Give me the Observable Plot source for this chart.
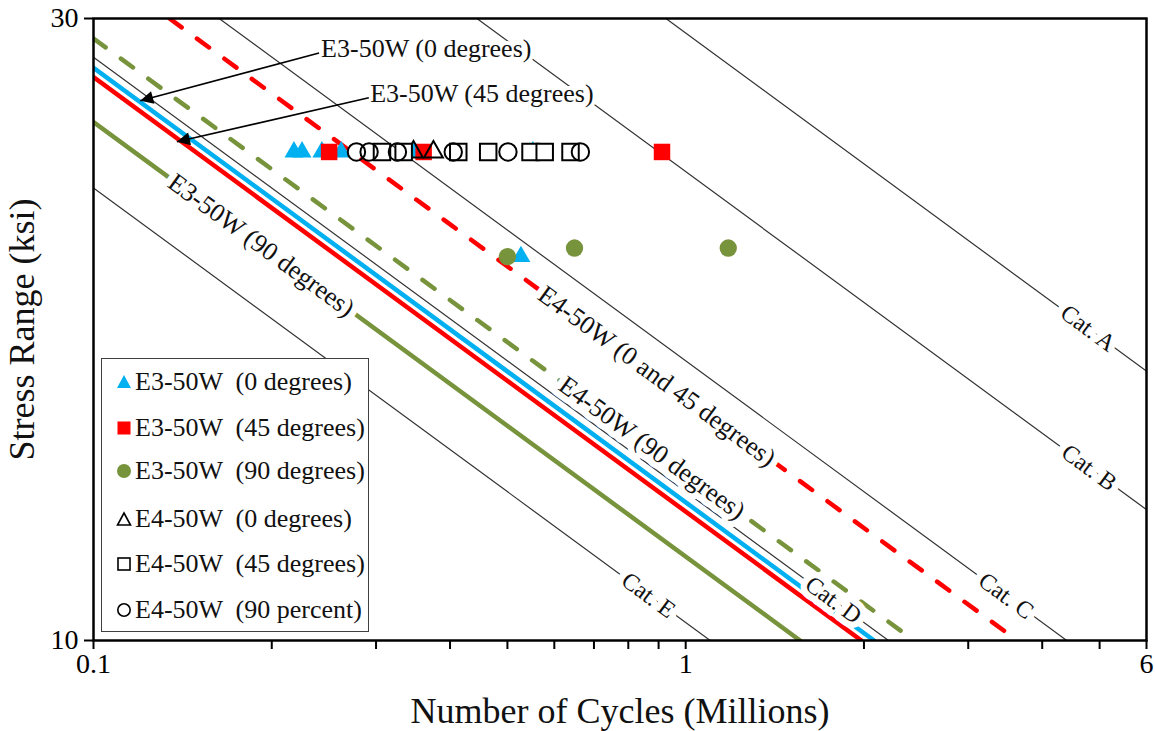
<!DOCTYPE html>
<html>
<head>
<meta charset="utf-8">
<script src="https://cdn.jsdelivr.net/npm/d3@7"></script>
<script src="https://cdn.jsdelivr.net/npm/@observablehq/plot@0.6"></script>
<style>
  body { margin: 0; background: white; }
  #wrap { position: relative; width: 1155px; height: 731px; font-family: "Liberation Serif", "Times New Roman", Times, "DejaVu Serif", serif; }
  #wrap svg text { font-family: "Liberation Serif", "Times New Roman", Times, "DejaVu Serif", serif; }
  #legend { position: absolute; left: 101px; top: 358px; width: 268px; height: 274px; border: 1.5px solid #404040; background: white; box-sizing: border-box; }
  .row { position: absolute; left: 14px; height: 30px; display: flex; align-items: center; font-size: 26px; white-space: pre; color: #111; }
  .row svg { margin-right: 3px; }
</style>
</head>
<body>
<div id="wrap"></div>
<script>
// ---------- data ----------
// stress-life lines: endpoints [cycles in millions, stress range ksi]
const catA = [[0.926, 30], [6, 16.09]];
const catB = [[0.444, 30], [6, 12.6]];
const catC = [[0.163, 30], [4.4, 10]];
const catD = [[0.1, 28.02], [2.2, 10]];
const catE = [[0.1, 22.24], [1.1, 10]];
const e3_0_fit = [[0.1, 27.5], [2.08, 10]];
const e3_45_fit = [[0.1, 27.05], [1.98, 10]];
const e3_90_fit = [[0.1, 24.98], [1.56, 10]];
const e4_045_fit = [[0.1344, 30], [3.63, 10]];
const e4_90_fit = [[0.1, 28.96], [2.43, 10]];

// test results
const e3_0_N = [0.218, 0.225, 0.243, 0.262, 0.347, 0.552, 0.527];
const e3_0_S = [23.7, 23.7, 23.7, 23.7, 23.7, 23.7, 19.7];
const e3_45_N = [0.250, 0.361, 0.912];
const e3_45_S = [23.7, 23.7, 23.7];
const e3_90_N = [0.50, 0.649, 1.18];
const e3_90_S = [19.7, 20, 20];
const e4_0_N = [0.347, 0.375];
const e4_0_S = [23.7, 23.7];
const e4_45_N = [0.307, 0.334, 0.413, 0.464, 0.547, 0.578, 0.639];
const e4_45_S = [23.7, 23.7, 23.7, 23.7, 23.7, 23.7, 23.7];
const e4_90_N = [0.278, 0.292, 0.326, 0.405, 0.501, 0.664];
const e4_90_S = [23.7, 23.7, 23.7, 23.7, 23.7, 23.7];

const legendNames = ["E3-50W  (0 degrees)", "E3-50W  (45 degrees)", "E3-50W  (90 degrees)",
                     "E4-50W  (0 degrees)", "E4-50W  (45 degrees)", "E4-50W  (90 percent)"];

// labels placed along lines [text, N, S]
const lineLabels = [
  ["E3-50W (90 degrees)", 0.192, 20.1],
  ["E4-50W (0 and 45 degrees)", 0.894, 15.95],
  ["E4-50W (90 degrees)", 0.877, 14.05]
];
const catLabels = [
  ["Cat. A", 4.78, 17.36],
  ["Cat. B", 4.80, 13.57],
  ["Cat. C", 3.475, 10.82],
  ["Cat. D", 1.776, 10.74],
  ["Cat. E", 0.8653, 10.83]
];
// callouts: text, text N, text S, arrow start N,S, arrow end N,S
const callouts = [
  ["E3-50W (0 degrees)", 0.2423, 28.43, 0.2404, 28.23, 0.1199, 25.94],
  ["E3-50W (45 degrees)", 0.2933, 26.26, 0.2917, 26.08, 0.1383, 24.13]
];

const xTicks = [0.1,0.2,0.3,0.4,0.5,0.6,0.7,0.8,0.9,1,2,3,4,5,6];
const xTickLabels = [0.1, 1, 6];
const yTicks = [10, 30];

// ---------- build ----------
const pts = (N, S) => N.map((n, i) => ({N: n, S: S[i]}));
const seg = (a) => a.map(([N, S]) => ({N, S}));
const BLUE = "#00B0F0", RED = "#FF0000", GREEN = "#77933C", THIN = "#333333";
const ANG = 36.2;
const FONT = '"Liberation Serif", "Times New Roman", Times, "DejaVu Serif", serif';

const thinLine = (a) => Plot.line(seg(a), {x: "N", y: "S", stroke: THIN, strokeWidth: 1.2, clip: true});

const chart = Plot.plot({
  width: 1155, height: 731,
  marginLeft: 93, marginRight: 9, marginTop: 18, marginBottom: 91,
  style: {fontFamily: FONT, background: "white", color: "black"},
  x: {type: "log", domain: [0.1, 6]},
  y: {type: "log", domain: [10, 30]},
  marks: [
    thinLine(catA), thinLine(catB), thinLine(catC), thinLine(catD), thinLine(catE),
    Plot.line(seg(e4_045_fit), {x: "N", y: "S", stroke: RED, strokeWidth: 4.5, strokeDasharray: "15,19", strokeLinecap: "round", clip: true}),
    Plot.line(seg(e4_90_fit), {x: "N", y: "S", stroke: GREEN, strokeWidth: 4.5, strokeDasharray: "15,19", strokeLinecap: "round", clip: true}),
    Plot.line(seg(e3_90_fit), {x: "N", y: "S", stroke: GREEN, strokeWidth: 4.5, clip: true}),
    Plot.line(seg(e3_0_fit), {x: "N", y: "S", stroke: BLUE, strokeWidth: 4.5, clip: true}),
    Plot.line(seg(e3_45_fit), {x: "N", y: "S", stroke: RED, strokeWidth: 4.5, clip: true}),
    // labels on lines (white halo makes the gap)
    Plot.text(lineLabels, {x: d => d[1], y: d => d[2], text: d => d[0], rotate: ANG, fontSize: 26,
      fill: "#111", stroke: "white", strokeWidth: 13, paintOrder: "stroke"}),
    Plot.text(catLabels, {x: d => d[1], y: d => d[2], text: d => d[0], rotate: ANG, fontSize: 24,
      fill: "#111", stroke: "white", strokeWidth: 13, paintOrder: "stroke"}),
    // callouts
    Plot.text(callouts, {x: d => d[1], y: d => d[2], text: d => d[0], textAnchor: "start", fontSize: 26,
      fill: "#111", stroke: "white", strokeWidth: 8, paintOrder: "stroke"}),
    Plot.link(callouts, {x1: d => d[3], y1: d => d[4], x2: d => d[5], y2: d => d[6], stroke: "black", strokeWidth: 1.6}),
    // points
    Plot.dot(pts(e3_0_N, e3_0_S), {x: "N", y: "S", symbol: "triangle", r: 7, fill: BLUE}),
    Plot.dot(pts(e3_45_N, e3_45_S), {x: "N", y: "S", symbol: "square", r: 9.3, fill: RED}),
    Plot.dot(pts(e3_90_N, e3_90_S), {x: "N", y: "S", symbol: "circle", r: 8.7, fill: GREEN}),
    Plot.dot(pts(e4_0_N, e4_0_S), {x: "N", y: "S", symbol: "triangle", r: 7, fill: "none", stroke: "black", strokeWidth: 2}),
    Plot.dot(pts(e4_45_N, e4_45_S), {x: "N", y: "S", symbol: "square", r: 9.3, fill: "white", stroke: "black", strokeWidth: 2}),
    Plot.dot(pts(e4_90_N, e4_90_S), {x: "N", y: "S", symbol: "circle", r: 8.7, fill: "none", stroke: "black", strokeWidth: 2}),
    // axes and frame
    Plot.frame({stroke: "black", strokeWidth: 2.5}),
    Plot.axisX({ticks: xTicks, tickSize: 9, tickPadding: 4, strokeWidth: 2, fontSize: 28, label: null,
      tickFormat: d => xTickLabels.includes(d) ? String(d) : ""}),
    Plot.axisY({ticks: yTicks, tickSize: 9, tickPadding: 6, strokeWidth: 2, fontSize: 28, label: null,
      tickFormat: d => String(d)}),
    Plot.text(["Number of Cycles (Millions)"], {frameAnchor: "bottom", lineAnchor: "middle", dy: 71, fontSize: 36, fill: "#111"}),
    Plot.text(["Stress Range (ksi)"], {frameAnchor: "left", textAnchor: "middle", lineAnchor: "middle", dx: -71, rotate: -90, fontSize: 36, fill: "#111"})
  ]
});

// filled arrow heads for the callouts
const ns = "http://www.w3.org/2000/svg";
const defs = document.createElementNS(ns, "defs");
const marker = document.createElementNS(ns, "marker");
marker.setAttribute("id", "ahead");
marker.setAttribute("viewBox", "0 0 10 10");
marker.setAttribute("refX", "10");
marker.setAttribute("refY", "5");
marker.setAttribute("markerWidth", "20");
marker.setAttribute("markerHeight", "13");
marker.setAttribute("markerUnits", "userSpaceOnUse");
marker.setAttribute("orient", "auto");
const mp = document.createElementNS(ns, "path");
mp.setAttribute("d", "M0,0L10,5L0,10z");
mp.setAttribute("fill", "black");
marker.appendChild(mp);
defs.appendChild(marker);
chart.insertBefore(defs, chart.firstChild);
chart.querySelectorAll('g[aria-label="link"] path').forEach(p => p.setAttribute("marker-end", "url(#ahead)"));

const wrap = document.getElementById("wrap");
wrap.appendChild(chart);

// legend inside plot area
const legend = document.createElement("div");
legend.id = "legend";
const sym = [
  '<polygon points="8,1 15,14 1,14" fill="' + BLUE + '"/>',
  '<rect x="1.5" y="1.5" width="13" height="13" fill="' + RED + '"/>',
  '<circle cx="8" cy="8" r="7" fill="' + GREEN + '"/>',
  '<polygon points="8,2 14.5,14 1.5,14" fill="none" stroke="black" stroke-width="1.6"/>',
  '<rect x="2" y="2" width="12" height="12" fill="none" stroke="black" stroke-width="1.6"/>',
  '<circle cx="8" cy="8" r="6.2" fill="none" stroke="black" stroke-width="1.6"/>'
];
const rowTops = [8, 54, 97, 145, 190, 236];
legendNames.forEach((name, i) => {
  const r = document.createElement("div");
  r.className = "row";
  r.style.top = rowTops[i] + "px";
  r.innerHTML = '<svg width="16" height="16" viewBox="0 0 16 16">' + sym[i] + '</svg>' + name;
  legend.appendChild(r);
});
wrap.appendChild(legend);
</script>
</body>
</html>
